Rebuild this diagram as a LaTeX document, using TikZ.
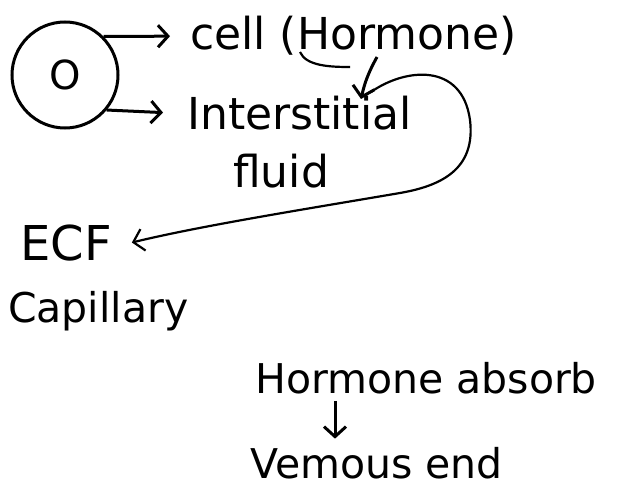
\documentclass[tikz,border=0pt]{standalone}
\usepackage{fontspec}
\setmainfont{DejaVu Sans}
\usetikzlibrary{arrows.meta,calc}

\begin{document}
\begin{tikzpicture}[x=1pt, y=-1pt,
  every node/.style={font=\fontsize{44}{48}\selectfont},
  hand/.style={inner sep=0pt, anchor=base west},
  small/.style={hand, font=\fontsize{41}{44}\selectfont},
  big/.style={hand, font=\fontsize{48}{52}\selectfont},
  ring/.style={draw, circle, line width=3pt, minimum size=106pt,
               inner sep=0pt, font=\fontsize{40}{42}\selectfont},
  arr/.style={-{Straight Barb[length=10pt,width=22pt]}, line width=3pt},
  swoop/.style={arr, line width=2.2pt}
]
\useasboundingbox (0,0) rectangle (618,492);

%% ─── cell and where the hormone goes ──────────────────────────────────────
\node[ring] (cellc)  at (65,75)   {O};
\node[hand] (celltxt) at (190,50) {cell (Hormone)};
\node[hand] (intxt)  at (187,129) {Interstitial};
\node[hand] (fltxt)  at (233,187) {fluid};

\draw[arr] (cellc.45)  -- ([xshift=-20pt]celltxt.west);
\draw[arr] (cellc.-40) -- ([xshift=-24pt]intxt.west);

\draw[line width=2.2pt] (300,52) .. controls (306,66) and (330,67) .. (350,67);
\coordinate (hm)  at (377,57);
\coordinate (hit) at (361,99);
\coordinate (lp)  at (371,92);
\draw[arr] (hm) to[bend right=8] (hit);

%% ─── ECF / capillary ──────────────────────────────────────────────────────
\node[big]   (ecf) at (20,260)  {ECF};
\node[small] (cap) at (8,322)   {Capillary};

\draw[swoop] (lp) .. controls (405,68) and (462,62) .. (470,120)
                  .. controls (476,170) and (440,186) .. (400,193)
                  .. controls (300,210) and (200,226) .. ([xshift=20pt]ecf.east);

%% ─── venous end ───────────────────────────────────────────────────────────
\node[small] (habs) at (255,393) {Hormone absorb};
\node[small] (ven)  at (250,478) {Vemous end};

\draw[arr] ([xshift=80pt,yshift=-7pt]habs.south west)
        -- ([xshift=85pt,yshift=8pt]ven.north west);

\end{tikzpicture}
\end{document}
